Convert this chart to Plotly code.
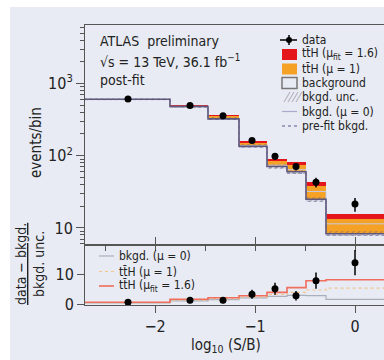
import numpy as np
import plotly.graph_objects as go

# ---------------- data ----------------
bin_edges = [-3.0, -1.85, -1.47, -1.16, -0.88, -0.68, -0.49, -0.29, 0.5]
bkg = [605, 480, 324, 135, 71, 60, 25, 8.3]
bkg_mu0 = [606, 482, 328, 138, 74, 64, 32, 11.4]
bkg_prefit = [598, 472, 318, 131, 68, 57, 23.5, 7.9]
tth_mu1 = [2, 8, 28, 15, 14, 15, 12.5, 4.9]
tth_fit = [4, 16, 45, 25, 20, 23, 18, 7.4]
bkg_unc_frac = [0.03, 0.04, 0.05, 0.06, 0.07, 0.07, 0.08, 0.08]

data_x = [-2.27, -1.65, -1.32, -1.03, -0.80, -0.59, -0.39, 0.0]
data_y = [610, 497, 357, 163, 98, 71, 43, 21.4]

ratio_data = [0.7, 1.4, 1.4, 3.4, 5.2, 2.9, 7.9, 13.9]
ratio_err = [0.9, 1.0, 1.0, 1.5, 2.0, 1.6, 2.7, 4.2]
ratio_mu0 = [0.5, 1.2, 1.6, 2.2, 2.7, 3.0, 2.9, 1.7]
ratio_mu1 = [0.6, 1.4, 1.9, 2.5, 3.3, 4.0, 4.8, 5.4]
ratio_fit = [0.7, 1.7, 2.2, 2.9, 4.0, 5.6, 7.9, 8.2]

main_ticks = [10, 100, 1000]
main_ticktext = ["10", "10<sup>2</sup>", "10<sup>3</sup>"]
x_ticks = [-2, -1, 0]

# ---------------- styles ----------------
FONT = "Liberation Sans Narrow, DejaVu Sans Condensed, Roboto, sans-serif"
BG = "#e8ebf3"
AX = "#555555"
RED = "#e4161c"
ORANGE = "#f4a126"
BKG_LINE = "#5f587c"

edges = np.array(bin_edges)
centers = (edges[:-1] + edges[1:]) / 2
widths = edges[1:] - edges[:-1]
bkg_a = np.array(bkg)
unc = np.array(bkg_unc_frac)

def step(vals):
    return list(vals) + [vals[-1]]

fig = go.Figure()

# signal stacks
fig.add_trace(go.Bar(x=centers, width=widths, base=bkg, y=tth_fit,
                     marker=dict(color=RED, line=dict(width=0)),
                     xaxis="x", yaxis="y", showlegend=False))
fig.add_trace(go.Bar(x=centers, width=widths, base=bkg, y=tth_mu1,
                     marker=dict(color=ORANGE, line=dict(width=0)),
                     xaxis="x", yaxis="y", showlegend=False))
# background uncertainty (hatched)
fig.add_trace(go.Bar(x=centers, width=widths, base=bkg_a * (1 - unc), y=2 * unc * bkg_a,
                     marker=dict(color="rgba(0,0,0,0)", line=dict(width=0),
                                 pattern=dict(shape="/", fgcolor="#6a6470", bgcolor="rgba(0,0,0,0)",
                                              size=4, solidity=0.35)),
                     xaxis="x", yaxis="y", showlegend=False))
# bkg mu=0 and prefit
fig.add_trace(go.Scatter(x=edges, y=step(bkg_mu0), mode="lines", line_shape="hv",
                         line=dict(color="#c9cbe0", width=1), xaxis="x", yaxis="y", showlegend=False))
fig.add_trace(go.Scatter(x=edges, y=step(bkg_prefit), mode="lines", line_shape="hv",
                         line=dict(color="#8a88b0", width=1, dash="dot"), xaxis="x", yaxis="y", showlegend=False))
# background line
fig.add_trace(go.Scatter(x=edges, y=step(bkg), mode="lines", line_shape="hv",
                         line=dict(color=BKG_LINE, width=1.6), xaxis="x", yaxis="y", showlegend=False))
# data
fig.add_trace(go.Scatter(x=data_x, y=data_y, mode="markers",
                         marker=dict(color="black", size=7),
                         error_y=dict(type="data", array=list(np.sqrt(data_y)), color="black",
                                      thickness=1.5, width=0),
                         xaxis="x", yaxis="y", showlegend=False))

# ratio panel
fig.add_trace(go.Scatter(x=edges, y=step(ratio_mu0), mode="lines", line_shape="hv",
                         line=dict(color="#aab0bb", width=1.2), xaxis="x2", yaxis="y2", showlegend=False))
fig.add_trace(go.Scatter(x=edges, y=step(ratio_mu1), mode="lines", line_shape="hv",
                         line=dict(color="#f4c48e", width=1.2, dash="dot"), xaxis="x2", yaxis="y2", showlegend=False))
fig.add_trace(go.Scatter(x=edges, y=step(ratio_fit), mode="lines", line_shape="hv",
                         line=dict(color="#ef6e5c", width=1.6), xaxis="x2", yaxis="y2", showlegend=False))
fig.add_trace(go.Scatter(x=data_x, y=ratio_data, mode="markers",
                         marker=dict(color="black", size=7),
                         error_y=dict(type="data", array=ratio_err, color="black", thickness=1.5, width=0),
                         xaxis="x2", yaxis="y2", showlegend=False))

# ---------------- layout ----------------
L, R, T, B = 85, 384, 25, 305
def px(x):
    return (x - L) / (R - L)
def py(y):
    return (B - y) / (B - T)

split = py(245)

minor_vals = [m * 10 ** e for e in range(0, 4) for m in range(2, 10)]

fig.update_layout(
    width=384, height=360,
    margin=dict(l=L, r=384 - R, t=T, b=360 - B),
    paper_bgcolor="white", plot_bgcolor="rgba(0,0,0,0)",
    barmode="overlay", bargap=0,
    font=dict(family=FONT, color="#222222", size=14),
    xaxis=dict(domain=[0, 1], anchor="y", range=[-2.7, 0.29], showticklabels=False,
               ticks="outside", ticklen=5, tickwidth=1, tickcolor=AX, tick0=0, dtick=0.5,
               showline=True, linecolor=AX, linewidth=1, mirror=True,
               showgrid=False, zeroline=False),
    yaxis=dict(domain=[split, 1], anchor="x", type="log", range=[0.764, 3.81],
               tickmode="array", tickvals=main_ticks, ticktext=main_ticktext,
               ticks="outside", ticklen=8, tickwidth=1, tickcolor=AX,
               minor=dict(tickmode="array", tickvals=minor_vals, ticks="outside", ticklen=4,
                          tickcolor=AX, showgrid=False),
               tickfont=dict(size=16), showline=True, linecolor=AX, linewidth=1,
               showgrid=False, zeroline=False),
    xaxis2=dict(domain=[0, 1], anchor="y2", range=[-2.7, 0.29], matches="x",
                tickmode="array", tickvals=x_ticks,
                ticks="outside", ticklen=7, tickwidth=1, tickcolor=AX, mirror="ticks",
                showline=True, linecolor=AX, linewidth=1, tickfont=dict(size=16),
                showgrid=False, zeroline=False),
    yaxis2=dict(domain=[0, split], anchor="x2", range=[-0.2, 19.8],
                tickmode="array", tickvals=[0, 10], ticks="outside", ticklen=7, tickwidth=1,
                tickcolor=AX, tickfont=dict(size=16), showline=True, linecolor=AX, linewidth=1,
                showgrid=False, zeroline=False),
)

shapes = []
# panel background
shapes.append(dict(type="rect", xref="paper", yref="paper", x0=px(10), x1=px(400), y0=py(7), y1=py(370),
                   fillcolor=BG, line=dict(width=0), layer="below"))

ann = []
def text(x, y, s, size=13, xanchor="left", angle=0):
    ann.append(dict(xref="paper", yref="paper", x=px(x), y=py(y), text=s, showarrow=False,
                    xanchor=xanchor, yanchor="middle", textangle=angle,
                    font=dict(size=size, family=FONT, color="#222222")))

# ATLAS label
text(98, 41, "ATLAS  preliminary", 14)
text(98, 61, "√s = 13 TeV, 36.1 fb<sup>−1</sup>", 14)
text(98, 80, "post-fit", 14)

# axis titles
text(36, 143, "events/bin", 15, xanchor="center", angle=-90)
text(30, 264, "<u>data − bkgd.</u><br>bkgd. unc.", 14, xanchor="center", angle=-90)
text(226, 345, "log<sub>10</sub> (S/B)", 15, xanchor="center")

# main legend
gx0, gx1, tx = 282, 297, 300
rows = [40, 54.5, 69, 83, 97, 111.5, 126]
labels = ["data", "tt̄H (μ<sub>fit</sub> = 1.6)", "tt̄H (μ = 1)", "background",
          "bkgd. unc.", "bkgd. (μ = 0)", "pre-fit bkgd."]
for r, lab in zip(rows, labels):
    text(tx, r, lab, 12)
# data glyph
shapes.append(dict(type="line", xref="paper", yref="paper", x0=px(gx0 - 2), x1=px(gx1), y0=py(rows[0]), y1=py(rows[0]),
                   line=dict(color="black", width=1.5)))
shapes.append(dict(type="line", xref="paper", yref="paper", x0=px(289), x1=px(289), y0=py(rows[0] - 5), y1=py(rows[0] + 5),
                   line=dict(color="black", width=1.5)))
shapes.append(dict(type="circle", xref="paper", yref="paper", x0=px(286), x1=px(292), y0=py(rows[0] - 3), y1=py(rows[0] + 3),
                   fillcolor="black", line=dict(color="black", width=0)))
for r, col in [(rows[1], RED), (rows[2], ORANGE)]:
    shapes.append(dict(type="rect", xref="paper", yref="paper", x0=px(gx0), x1=px(gx1), y0=py(r - 5.5), y1=py(r + 5.5),
                       fillcolor=col, line=dict(width=0)))
shapes.append(dict(type="rect", xref="paper", yref="paper", x0=px(gx0), x1=px(gx1), y0=py(rows[3] - 5.5), y1=py(rows[3] + 5.5),
                   fillcolor="rgba(0,0,0,0)", line=dict(color="#777777", width=1.5)))
for k in range(4):
    xs = gx0 + 2 + k * 4
    shapes.append(dict(type="line", xref="paper", yref="paper", x0=px(xs), x1=px(xs + 6),
                       y0=py(rows[4] + 5), y1=py(rows[4] - 5), line=dict(color="#b5b5c0", width=1.2)))
shapes.append(dict(type="line", xref="paper", yref="paper", x0=px(gx0), x1=px(gx1), y0=py(rows[5]), y1=py(rows[5]),
                   line=dict(color="#a8acc8", width=1.2)))
shapes.append(dict(type="line", xref="paper", yref="paper", x0=px(gx0), x1=px(gx1), y0=py(rows[6]), y1=py(rows[6]),
                   line=dict(color="#8a88b0", width=1.5, dash="dot")))

# ratio legend
rrows = [256, 271.5, 286]
rlabels = ["bkgd. (μ = 0)", "tt̄H (μ = 1)", "tt̄H (μ<sub>fit</sub> = 1.6)"]
rstyles = [dict(color="#aab0bb", width=1.2), dict(color="#f4c48e", width=1.2, dash="dot"),
           dict(color="#ef6e5c", width=1.6)]
for r, lab, st in zip(rrows, rlabels, rstyles):
    text(117, r, lab, 12)
    shapes.append(dict(type="line", xref="paper", yref="paper", x0=px(99), x1=px(114), y0=py(r), y1=py(r), line=st))

fig.update_layout(shapes=shapes, annotations=ann)
fig.write_html("out.html")
